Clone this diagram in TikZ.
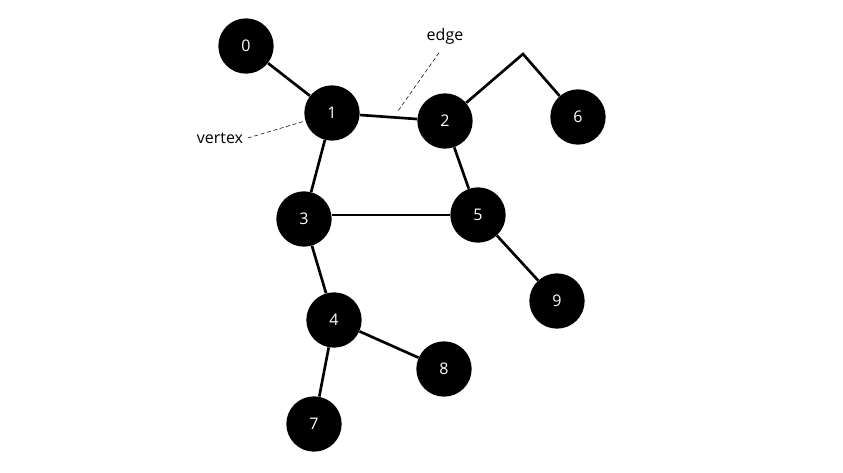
\documentclass[tikz,border=0pt]{standalone}
\usepackage{fontspec}
\setmainfont{Open Sans}
\usepackage{tikz}

\begin{document}
\begin{tikzpicture}[x=0.75pt,y=-0.75pt,
    vtx/.style={circle,fill=black,text=white,inner sep=0pt,minimum size=41.5pt,font=\fontsize{12}{14}\selectfont},
    lbl/.style={font=\fontsize{12}{14}\selectfont},
    link/.style={line width=2pt}]
\useasboundingbox (0,0) rectangle (843,472);
\foreach \n/\x/\y in {0/246/46,1/332/113,2/445/121,6/578/117,3/304/219,5/478/215,9/557/301,4/334/320,8/444/369,7/314/424}
    {\node[vtx] (v\n) at (\x,\y) {\n};}
\coordinate (bend) at (523,54);
\foreach \a/\b in {0/1,1/2,1/3,2/5,3/4,5/9,4/8,4/7}
    {\draw[link] (v\a) -- (v\b);}
\draw[link] (v5.west -| v3.east) -- (v5.west);
\draw[link] (v2) -- (bend) -- (v6);
\node[lbl] (edgetxt) at (445,36) {edge};
\node[lbl] (vertextxt) at (220,138) {vertex};
\coordinate (edgept) at (398,111);
\draw[densely dashed,thin] (edgetxt.south) ++(-6,4) -- (edgept);
\draw[densely dashed,thin] (vertextxt.east) -- (v1);
\end{tikzpicture}
\end{document}
